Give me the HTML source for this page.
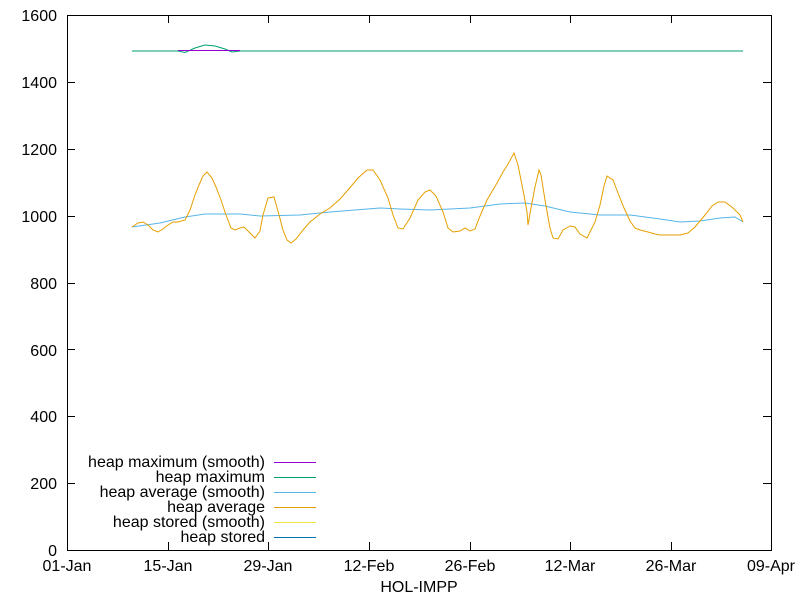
<!DOCTYPE html>
<html><head><meta charset="utf-8"><style>
html,body{margin:0;padding:0;background:#fff}
svg{display:block;font-family:"Liberation Sans",sans-serif;font-size:16px}
</style></head><body>
<svg width="800" height="600" xmlns="http://www.w3.org/2000/svg">
<rect x="67.5" y="15.5" width="704" height="535" fill="none" stroke="#000" stroke-width="1"/>
<g stroke="#000" stroke-width="1">
<path d="M67 550.5h8M67 483.5h8M67 416.5h8M67 349.5h8M67 283.5h8M67 216.5h8M67 149.5h8M67 82.5h8M67 15.5h8"/>
<path d="M771 550.5h-8M771 483.5h-8M771 416.5h-8M771 349.5h-8M771 283.5h-8M771 216.5h-8M771 149.5h-8M771 82.5h-8M771 15.5h-8"/>
<path d="M67.5 550v-8M168.5 550v-8M268.5 550v-8M369.5 550v-8M470.5 550v-8M570.5 550v-8M671.5 550v-8M771.5 550v-8"/>
<path d="M67.5 15v8M168.5 15v8M268.5 15v8M369.5 15v8M470.5 15v8M570.5 15v8M671.5 15v8M771.5 15v8"/>
</g>
<g text-anchor="end" fill="#000">
<text x="57" y="556">0</text><text x="57" y="489">200</text><text x="57" y="422">400</text><text x="57" y="356">600</text><text x="57" y="289">800</text><text x="57" y="222">1000</text><text x="57" y="155">1200</text><text x="57" y="88">1400</text><text x="57" y="21">1600</text>
</g>
<g text-anchor="middle" fill="#000">
<text x="67" y="571">01-Jan</text><text x="168" y="571">15-Jan</text><text x="268" y="571">29-Jan</text><text x="369" y="571">12-Feb</text><text x="470" y="571">26-Feb</text><text x="570" y="571">12-Mar</text><text x="671" y="571">26-Mar</text><text x="771" y="571">09-Apr</text>
<text x="419" y="592">HOL-IMPP</text>
</g>
<polyline fill="none" stroke="#009e73" stroke-width="1" points="132,51 178,51 185,52.5 195,48 205,45 215,46 225,49 232,52 240,51 743,51"/>
<line x1="178" y1="50.5" x2="240" y2="50.5" stroke="#9400d3" stroke-width="1"/>
<polyline fill="none" stroke="#56b4e9" stroke-width="1" points="132,227 160,223 185,217 205,214 240,214 260,216 300,215 330,212 380,208 400,209 430,210 470,208 500,204 525,203 545,206 570,212 600,215 630,215 660,219 680,222 700,221 720,218 735,217 743,222"/>
<polyline fill="none" stroke="#e69f00" stroke-width="1" points="132,227 138,223 143,222 148,225 153,230 158,232 163,229 168,225 173,222 178,222 185,220 190,210 195,195 199,185 203,176 207,172 212,178 216,187 221,200 226,215 231,228 235,230 240,228 244,227 249,232 255,238 260,231 263,215 268,198 274,197 279,215 283,230 287,240 291,243 296,239 303,230 310,222 320,214 330,208 340,199 348,190 358,178 367,170 373,170 380,180 388,198 393,215 398,228 403,229 410,218 418,200 425,192 430,190 436,196 443,212 448,228 453,232 460,231 465,228 470,231 475,229 480,216 487,200 497,183 503,172 508,164 514,153 518,165 521,180 524,195 527,212 528,225 531,208 535,187 539,170 541,175 545,200 550,228 553,238 558,239 563,230 570,226 575,227 580,234 587,238 595,222 600,205 604,186 607,176 613,180 618,193 624,208 630,221 635,228 640,230 648,232 655,234 660,235 670,235 680,235 688,233 695,227 705,215 712,206 718,202 725,202 733,208 740,215 743,222"/>
<g text-anchor="end" fill="#000">
<text x="265" y="467">heap maximum (smooth)</text>
<text x="265" y="482">heap maximum</text>
<text x="265" y="497">heap average (smooth)</text>
<text x="265" y="512">heap average</text>
<text x="265" y="527">heap stored (smooth)</text>
<text x="265" y="542">heap stored</text>
</g>
<g stroke-width="1">
<line x1="274" y1="462.5" x2="316" y2="462.5" stroke="#9400d3"/>
<line x1="274" y1="477.5" x2="316" y2="477.5" stroke="#009e73"/>
<line x1="274" y1="492.5" x2="316" y2="492.5" stroke="#56b4e9"/>
<line x1="274" y1="507.5" x2="316" y2="507.5" stroke="#e69f00"/>
<line x1="274" y1="522.5" x2="316" y2="522.5" stroke="#f0e442"/>
<line x1="274" y1="537.5" x2="316" y2="537.5" stroke="#0072b2"/>
</g>
</svg>
</body></html>
